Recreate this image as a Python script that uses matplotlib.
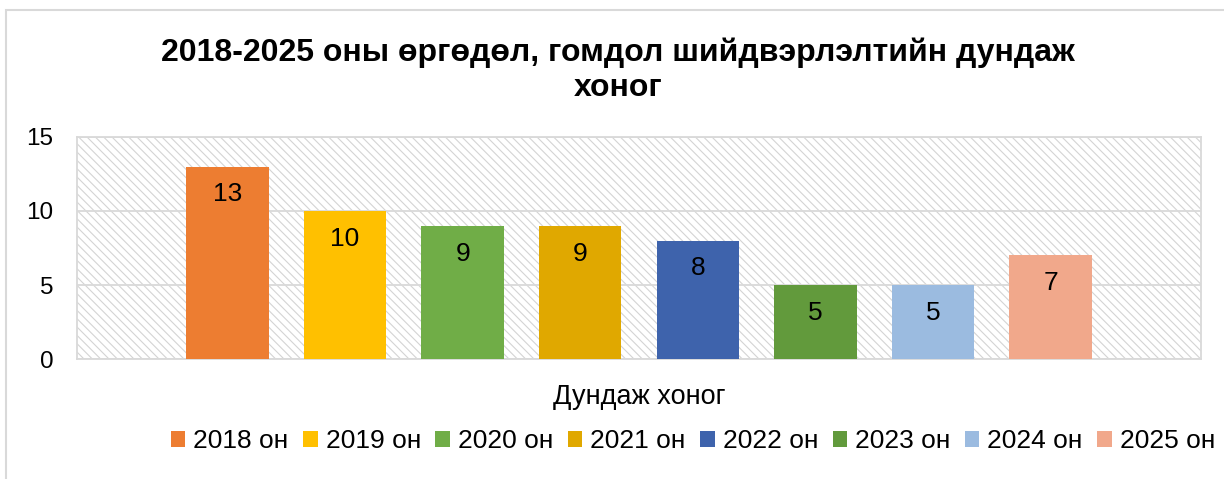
import matplotlib.pyplot as plt
from matplotlib.patches import Rectangle

plt.rcParams['font.family'] = ['Liberation Sans', 'DejaVu Sans']
plt.rcParams['hatch.color'] = '#d4d4d4'
plt.rcParams['hatch.linewidth'] = 0.8

# data
years = ['2018 он', '2019 он', '2020 он', '2021 он', '2022 он', '2023 он', '2024 он', '2025 он']
days = [13, 10, 9, 9, 8, 5, 5, 7]
colors = ['#ED7D31', '#FFC000', '#70AD47', '#E0A800', '#3E63AC', '#629A3C', '#9BBBE0', '#F1A88B']
category = 'Дундаж хоног'
title = '2018-2025 оны өргөдөл, гомдол шийдвэрлэлтийн дундаж\nхоног'

fig = plt.figure(figsize=(12.24, 4.79), dpi=100)
ax = fig.add_axes([77 / 1224, 1 - 359 / 479, (1201 - 77) / 1224, (359 - 137) / 479])

# outer chart frame
fig.patches.append(Rectangle((6 / 1224, -0.1), 1.2, 1 - 10 / 479 + 0.1, transform=fig.transFigure,
                             fill=False, edgecolor='#d9d9d9', linewidth=1.5))

# hatched plot area
ax.add_patch(Rectangle((0, 0), 1, 1, transform=ax.transAxes, facecolor='white',
                       edgecolor='#d4d4d4', hatch='\\\\\\\\', linewidth=0, zorder=0))

x = list(range(len(years)))
bars = ax.bar(x, days, width=0.7, color=colors, zorder=3, label=years)
for xi, v in zip(x, days):
    ax.annotate(str(v), (xi, v), xytext=(0, -20), textcoords='offset points',
                ha='center', va='center', fontsize=19, color='black', zorder=4)

ax.set_xlim(-1.28, 8.28)
ax.set_ylim(0, 15)
ax.set_yticks([0, 5, 10, 15])
ax.set_xticks([3.5])
ax.set_xticklabels([category])
ax.tick_params(axis='y', length=0, pad=17, labelsize=17.5)
ax.tick_params(axis='x', length=0, pad=18, labelsize=19.5)
ax.yaxis.grid(True, color='#d9d9d9', linewidth=1.3, zorder=1)
ax.set_axisbelow(True)
for s in ax.spines.values():
    s.set_color('#d9d9d9')
    s.set_linewidth(1.3)

fig.text(618 / 1224, 1 - 70 / 479, title, ha='center', va='center', fontsize=23,
         fontweight='bold', linespacing=1.2)

fig.legend(bars, years, loc='center', bbox_to_anchor=(693 / 1224, 1 - 441 / 479), ncol=8,
           frameon=False, fontsize=19, handlelength=0.55, handleheight=0.55,
           handletextpad=0.3, columnspacing=0.55)

fig.savefig('out.png', dpi=100)
